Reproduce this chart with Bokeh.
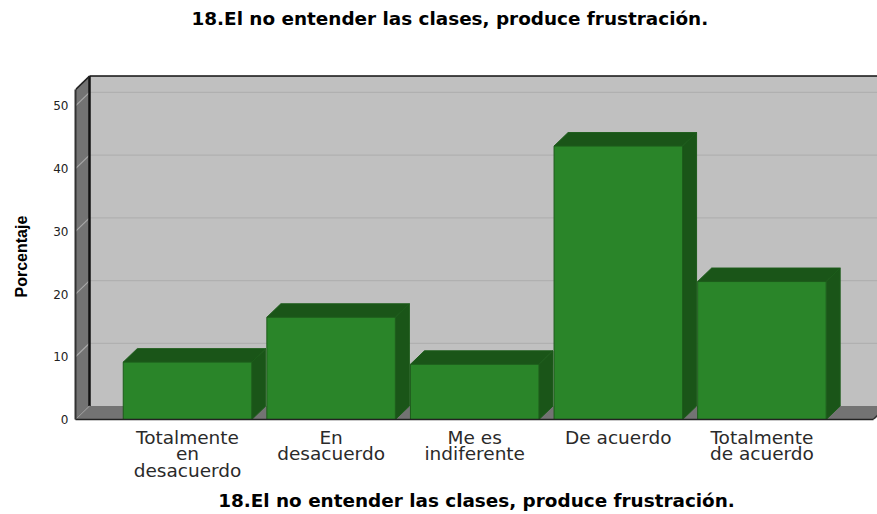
from bokeh.plotting import figure
from bokeh.models import FixedTicker, Range1d, Title
from bokeh.embed import file_html
from bokeh.resources import INLINE

title_text = "18.El no entender las clases, produce frustración."
y_title = "Porcentaje"
categories = ["Totalmente\nen\ndesacuerdo", "En\ndesacuerdo", "Me es\nindiferente", "De acuerdo", "Totalmente\nde acuerdo"]
values = [9.15, 16.3, 8.8, 43.6, 22.0]
y_ticks = [0, 10, 20, 30, 40, 50]

FRONT = "#2a8529"
DARK = "#1a5518"
EDGE = "#1d5c1b"
WALL = "#c0c0c0"
SIDE = "#737373"
GRID = "#b0b0b0"

# oblique depth, in data units
dx, dy = 0.0975, 2.15
x_lo, x_hi = -0.78, 4.775
y_top = 52.6
bar_w = 0.895
xs = list(range(len(values)))

W, H = 877, 514
left, top = 75, 73
frame_bottom = 419
x_end = x_lo + (W - left) / 143.6
y_end = (frame_bottom - top) / 6.29

p = figure(width=W, height=H, output_backend="svg", toolbar_location=None,
           x_range=Range1d(x_lo, x_end), y_range=Range1d(0, y_end),
           min_border_left=left, min_border_right=0, min_border_top=top, min_border_bottom=H - frame_bottom,
           outline_line_color=None, background_fill_color="white")
p.grid.visible = False

p.quad(left=x_lo + dx, right=x_hi + dx, bottom=dy, top=y_top + dy, fill_color=WALL, line_color=None)
p.segment(x_lo + dx, y_top + dy, x_end, y_top + dy, line_color="#111111", line_width=1.5)
p.patch([x_lo, x_lo + dx, x_lo + dx, x_lo], [y_top, y_top + dy, dy, 0], fill_color=SIDE, line_color=None)
p.patch([x_lo, x_lo + dx, x_hi + dx, x_hi], [0, dy, dy, 0], fill_color=SIDE, line_color=None)
gt = [t for t in y_ticks if t > 0]
p.segment([x_lo + dx] * len(gt), [t + dy for t in gt], [x_hi + dx] * len(gt), [t + dy for t in gt],
          line_color=GRID, line_width=1.2)
p.segment([x_lo] * len(gt), gt, [x_lo + dx] * len(gt), [t + dy for t in gt], line_color="#a8a8a8", line_width=1.2)
p.segment(x_lo + dx, dy, x_lo + dx, y_top + dy, line_color="#111111", line_width=2.5)
p.segment(x_lo, y_top, x_lo + dx, y_top + dy, line_color="#222222", line_width=1.5)
p.segment(x_lo, 0, x_lo + dx, dy, line_color="#999999", line_width=1)
p.segment(x_hi, 0, x_hi + dx, dy, line_color="#333333", line_width=1.5)

for x, v in zip(xs, values):
    l, r = x - bar_w / 2, x + bar_w / 2
    p.patch([l, l + dx, r + dx, r], [v, v + dy, v + dy, v], fill_color=DARK, line_color=EDGE, line_width=1)
    p.patch([r, r + dx, r + dx, r], [0, dy, v + dy, v], fill_color=DARK, line_color=EDGE, line_width=1)
p.vbar(x=xs, width=bar_w, bottom=0, top=values, fill_color=FRONT, line_color=EDGE, line_width=1)

ax = p.xaxis[0]
ax.ticker = FixedTicker(ticks=xs)
ax.major_label_overrides = {i: c for i, c in enumerate(categories)}
ax.major_tick_line_color = None
ax.minor_tick_line_color = None
ax.major_tick_out = 0
ax.axis_line_color = "#222222"
ax.axis_line_width = 1.5
ax.bounds = (x_lo, x_hi)
ax.major_label_text_font = "DejaVu Sans"
ax.major_label_text_font_size = "18.5px"
ax.major_label_text_line_height = 0.8
ax.major_label_text_color = "#2a2a2a"
ax.major_label_standoff = 7
ax.axis_label = title_text
ax.axis_label_text_font = "DejaVu Sans"
ax.axis_label_text_font_style = "bold"
ax.axis_label_text_font_size = "18.4px"
ax.axis_label_text_color = "black"
ax.axis_label_standoff = 6

ay = p.yaxis[0]
ay.ticker = FixedTicker(ticks=y_ticks)
ay.major_tick_line_color = None
ay.minor_tick_line_color = None
ay.major_tick_out = 0
ay.axis_line_color = "#333333"
ay.axis_line_width = 2
ay.bounds = (0, y_top)
ay.major_label_text_font = "DejaVu Sans"
ay.major_label_text_font_size = "12px"
ay.major_label_text_color = "#222222"
ay.major_label_standoff = 7

# blank spacer titles push the real titles outward, away from the frame
p.title = None
p.add_layout(Title(text=" ", standoff=38, text_font_size="1px"), "above")
p.add_layout(Title(text=title_text, align="left", offset=116, standoff=10, text_font="DejaVu Sans",
                   text_font_style="bold", text_font_size="18.4px", text_color="black"), "above")
p.add_layout(Title(text=" ", standoff=8, text_font_size="1px"), "left")
p.add_layout(Title(text=y_title, align="left", offset=122, standoff=20, text_font="Liberation Sans",
                   text_font_style="bold", text_font_size="16px", text_color="black"), "left")

open("out.html", "w").write(file_html(p, INLINE))
